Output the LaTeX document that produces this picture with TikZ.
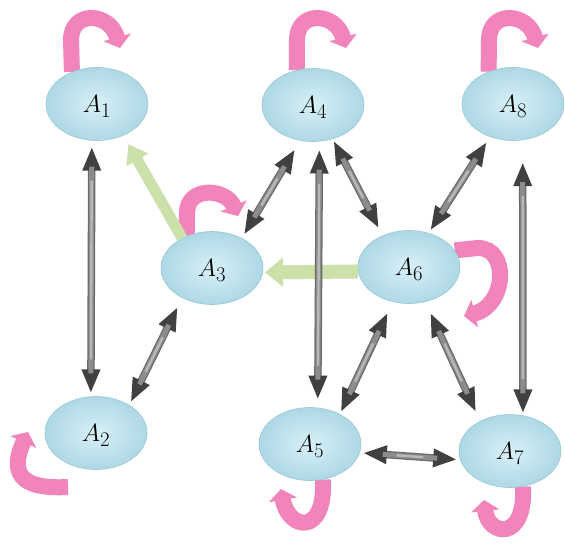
\documentclass[tikz,border=0pt]{standalone}
\usetikzlibrary{arrows.meta,calc,backgrounds,shapes.geometric}
\definecolor{nodein}{RGB}{216,240,247}
\definecolor{nodeout}{RGB}{174,216,229}
\definecolor{nodeedge}{RGB}{152,198,214}
\definecolor{loopc}{RGB}{241,133,187}
\definecolor{flowc}{RGB}{204,224,170}
\tikzset{
  state/.style={ellipse, minimum width=102pt, minimum height=73pt, inner sep=0pt,
    inner color=nodein, outer color=nodeout, draw=nodeedge, line width=0.6pt,
    text depth=0pt, font=\fontsize{24.88}{30}\selectfont},
  link/.style 2 args={line width=7.5pt, draw=black!58,
    {Triangle[length=24pt,width=17pt,color=black!75]}-{Triangle[length=24pt,width=17pt,color=black!75]},
    shorten <=#1, shorten >=#2,
    postaction={draw=black!45, line width=5pt, -, shorten <=#1+20pt, shorten >=#2+20pt},
    postaction={draw=black!28, line width=2.4pt, -, shorten <=#1+34pt, shorten >=#2+34pt}},
  flowthin/.style={draw=flowc, line width=11pt, -{Triangle[length=18pt,width=24pt]}},
  flowthick/.style={draw=flowc, line width=14pt, -{Triangle[length=18pt,width=28pt]}},
  selfloop/.style={draw=loopc, line width=16pt, -{Triangle[length=11pt,width=28pt]}},
}
\begin{document}
\begin{tikzpicture}[x=1pt,y=-1pt]
\useasboundingbox (0,0) rectangle (565,544);

% states
\node[state] (a1) at (97,104) {$A_1$};
\node[state] (a4) at (313,105) {$A_4$};
\node[state] (a8) at (513,104) {$A_8$};
\node[state] (a3) at (212,268) {$A_3$};
\node[state] (a6) at (409,267) {$A_6$};
\node[state] (a2) at (96,433) {$A_2$};
\node[state] (a5) at (310,444) {$A_5$};
\node[state] (a7) at (510,451) {$A_7$};

% page and self loops, tucked under the states
\begin{pgfonlayer}{background}
\fill[white] (0,0) rectangle (565,544);
\draw[selfloop] (a1.128) -- (71,40) .. controls (71,10) and (110,12) .. (120,48);
\draw[selfloop] (a4.115) -- (297,40) .. controls (297,10) and (336,12) .. (346,48);
\draw[selfloop] (a8.127) -- (489,40) .. controls (489,10) and (528,12) .. (538,48);
\draw[selfloop] (a3.128) -- (187,213) .. controls (187,186) and (226,188) .. (238,216);
\draw[selfloop] (a6.20) -- (478,248) .. controls (510,248) and (506,306) .. (464,316);
\draw[selfloop] (68,487) .. controls (30,489) and (6,480) .. (28,432);
\draw[selfloop] (a5.290) .. controls (326,537) and (288,530) .. (281,489);
\draw[selfloop] (a7.290) .. controls (526,542) and (488,536) .. (484,500);
\end{pgfonlayer}

% one-way flows
\draw[flowthin, shorten >=10pt] (a3.135) -- (a1.310);
\draw[flowthick, shorten >=2pt] (a6.185) -- (a3.355);

% two-way links
\draw[link={6pt}{3pt}] (a1.262) -- (a2.98);
\draw[link={3pt}{10pt}] (a2.40) -- (a3.225);
\draw[link={4pt}{10pt}] (a3.45) -- (a4.250);
\draw[link={8pt}{8pt}] (a4.280) -- (a5.78);
\draw[link={2pt}{8pt}] (a4.300) -- (a6.130);
\draw[link={3pt}{6pt}] (a6.60) -- (a8.235);
\draw[link={22pt}{2pt}] (a8.285) -- (a7.70);
\draw[link={12pt}{2pt}] (a6.245) -- (a5.45);
\draw[link={12pt}{10pt}] (a6.295) -- (a7.135);
\draw[link={3pt}{3pt}] (a5.350) -- (a7.190);
\end{tikzpicture}
\end{document}
